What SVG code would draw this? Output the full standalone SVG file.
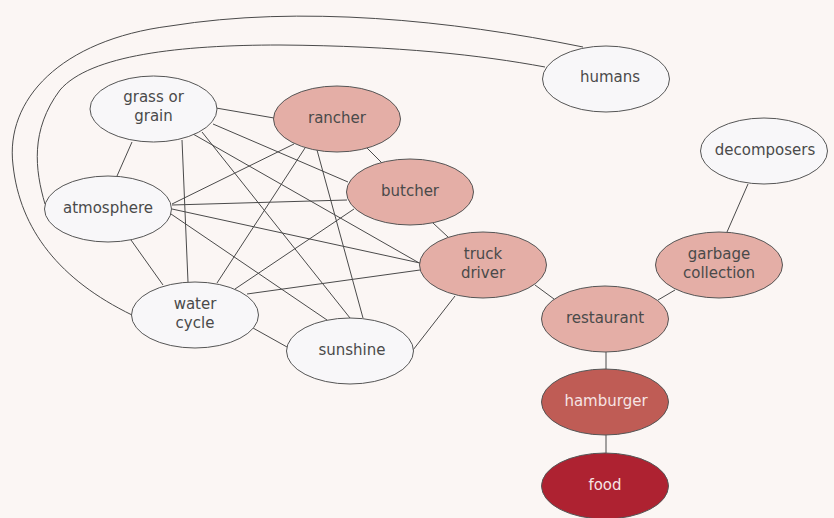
<svg xmlns="http://www.w3.org/2000/svg" width="834" height="518" viewBox="0 0 834 518">
<style>
.e{stroke:#4a4a4a;stroke-width:1;fill:none}
.n{stroke:#555;stroke-width:1}
.w{fill:#f8f7f9}
.p{fill:#e4aea6}
.h{fill:#bf5c55}
.f{fill:#ae2231}
text{font-family:"DejaVu Sans","Liberation Sans",sans-serif;font-size:15px;fill:#4a4a4a;text-anchor:middle}
text.l{fill:#f6e4e4}
</style>
<rect width="834" height="518" fill="#fbf6f4"/>
<g id="connectors">
<path class="e" d="M132,315 C60,280 20,230 13,165 C5,100 60,40 170,26 C300,5 450,20 583,47"/>
<path class="e" d="M45,204 C35,170 30,130 60,90 C90,55 180,45 280,45 C400,46 480,55 545,67"/>
<line class="e" x1="216" y1="108" x2="274" y2="118"/>
<line class="e" x1="213" y1="124" x2="348" y2="182"/>
<line class="e" x1="193" y1="134" x2="421" y2="264"/>
<line class="e" x1="202" y1="132" x2="350" y2="318"/>
<line class="e" x1="182" y1="140" x2="188" y2="282"/>
<line class="e" x1="132" y1="142" x2="117" y2="176"/>
<line class="e" x1="172" y1="204" x2="294" y2="144"/>
<line class="e" x1="172" y1="205" x2="347" y2="200"/>
<line class="e" x1="172" y1="209" x2="420" y2="263"/>
<line class="e" x1="171" y1="214" x2="327" y2="320"/>
<line class="e" x1="131" y1="240" x2="163" y2="285"/>
<line class="e" x1="305" y1="148" x2="217" y2="283"/>
<line class="e" x1="317" y1="150" x2="363" y2="318"/>
<line class="e" x1="367" y1="148" x2="382" y2="163"/>
<line class="e" x1="354" y1="209" x2="235" y2="289"/>
<line class="e" x1="433" y1="223" x2="448" y2="237"/>
<line class="e" x1="420" y1="270" x2="247" y2="294"/>
<line class="e" x1="455" y1="296" x2="413" y2="350"/>
<line class="e" x1="535" y1="285" x2="554" y2="299"/>
<line class="e" x1="253" y1="328" x2="287" y2="347"/>
<line class="e" x1="658" y1="300" x2="675" y2="290"/>
<line class="e" x1="748" y1="184" x2="727" y2="232"/>
<line class="e" x1="606" y1="352" x2="606" y2="369"/>
<line class="e" x1="606" y1="435" x2="606" y2="453"/>
</g>
<g id="grass"><ellipse class="n w" cx="153.5" cy="109" rx="63.5" ry="33"/><text x="153.5" y="102">grass or</text><text x="153.5" y="121">grain</text></g>
<g id="rancher"><ellipse class="n p" cx="337" cy="119" rx="63.5" ry="33"/><text x="337" y="123">rancher</text></g>
<g id="atmosphere"><ellipse class="n w" cx="108" cy="209" rx="63.5" ry="33"/><text x="108" y="213">atmosphere</text></g>
<g id="butcher"><ellipse class="n p" cx="410" cy="192" rx="63.5" ry="33"/><text x="410" y="196">butcher</text></g>
<g id="humans"><ellipse class="n w" cx="606" cy="79" rx="63.5" ry="33"/><text x="610" y="82">humans</text></g>
<g id="decomposers"><ellipse class="n w" cx="764" cy="151" rx="63.5" ry="33"/><text x="765" y="155">decomposers</text></g>
<g id="truck"><ellipse class="n p" cx="483" cy="265" rx="63.5" ry="33"/><text x="483" y="259">truck</text><text x="483" y="278">driver</text></g>
<g id="garbage"><ellipse class="n p" cx="719" cy="265" rx="63.5" ry="33"/><text x="719" y="259">garbage</text><text x="719" y="278">collection</text></g>
<g id="water"><ellipse class="n w" cx="195" cy="315" rx="63.5" ry="33"/><text x="195" y="309">water</text><text x="195" y="328">cycle</text></g>
<g id="sunshine"><ellipse class="n w" cx="350" cy="351" rx="63.5" ry="33"/><text x="352" y="355">sunshine</text></g>
<g id="restaurant"><ellipse class="n p" cx="605" cy="319" rx="63.5" ry="33"/><text x="605" y="323">restaurant</text></g>
<g id="hamburger"><ellipse class="n h" cx="605" cy="402" rx="63.5" ry="33"/><text class="l" x="606" y="406">hamburger</text></g>
<g id="food"><ellipse class="n f" cx="605" cy="486" rx="63.5" ry="33"/><text class="l" x="605" y="490">food</text></g>
</svg>
